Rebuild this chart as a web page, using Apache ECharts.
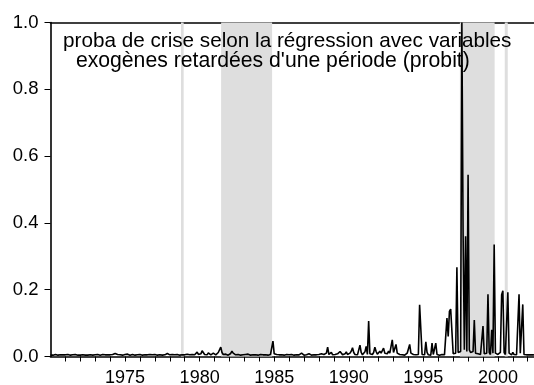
<!DOCTYPE html>
<html>
<head>
<meta charset="utf-8">
<script src="https://cdn.jsdelivr.net/npm/echarts@6/dist/echarts.min.js"></script>
<style>
  html, body { margin: 0; padding: 0; background: #fff; }
  #chart { width: 534px; height: 385px; }
</style>
</head>
<body>
<div id="chart"></div>
<script>
// Monthly crisis probability (probit, exogenous variables lagged one period), from 1970:01
const startYear = 1970;

const probs1970s = [
  0.004,0.005,0.004,0.004,0.006,0.005,0.004,0.005,0.005,0.004,0.005,0.006,
  0.005,0.004,0.006,0.005,0.004,0.005,0.005,0.004,0.006,0.005,0.004,0.005,
  0.004,0.005,0.005,0.006,0.004,0.005,0.004,0.006,0.005,0.005,0.004,0.005,
  0.005,0.004,0.006,0.005,0.004,0.005,0.006,0.004,0.005,0.004,0.005,0.004,
  0.005,0.004,0.006,0.011,0.009,0.008,0.006,0.007,0.005,0.006,0.004,0.005,
  0.006,0.005,0.007,0.006,0.004,0.005,0.006,0.005,0.004,0.006,0.005,0.004,
  0.006,0.005,0.004,0.006,0.005,0.007,0.005,0.004,0.006,0.009,0.005,0.004,
  0.006,0.005,0.004,0.007,0.005,0.006,0.004,0.006,0.005,0.004,0.009,0.006,
  0.005,0.004,0.006,0.008,0.005,0.004,0.006,0.005,0.004,0.007,0.005,0.006,
  0.005,0.004,0.007,0.009,0.005,0.004,0.006,0.008,0.005,0.007,0.013,0.006
];

const probs1980s = [
  0.005,0.008,0.017,0.012,0.006,0.008,0.005,0.011,0.007,0.005,0.006,0.010,
  0.006,0.005,0.008,0.012,0.010,0.028,0.012,0.006,0.005,0.007,0.005,0.004,
  0.006,0.009,0.016,0.010,0.006,0.005,0.004,0.006,0.005,0.004,0.006,0.005,
  0.004,0.006,0.005,0.007,0.005,0.004,0.006,0.005,0.007,0.005,0.006,0.004,
  0.005,0.006,0.004,0.005,0.007,0.005,0.006,0.004,0.005,0.006,0.008,0.046,
  0.008,0.005,0.006,0.010,0.005,0.004,0.005,0.006,0.004,0.005,0.006,0.004,
  0.005,0.004,0.006,0.005,0.004,0.006,0.005,0.004,0.005,0.006,0.010,0.005,
  0.004,0.006,0.005,0.004,0.008,0.005,0.004,0.006,0.005,0.008,0.005,0.004,
  0.006,0.005,0.008,0.005,0.006,0.004,0.010,0.028,0.006,0.005,0.012,0.005,
  0.004,0.006,0.005,0.008,0.006,0.015,0.010,0.005,0.006,0.008,0.014,0.006
];

const probs1990s = [
  0.005,0.010,0.016,0.026,0.012,0.006,0.008,0.005,0.010,0.034,0.012,0.005,
  0.008,0.014,0.030,0.006,0.106,0.008,0.005,0.006,0.012,0.028,0.015,0.007,
  0.005,0.016,0.010,0.005,0.025,0.010,0.006,0.008,0.016,0.010,0.006,0.050,
  0.012,0.008,0.036,0.010,0.005,0.006,0.004,0.005,0.006,0.004,0.005,0.010,
  0.012,0.036,0.010,0.012,0.006,0.010,0.005,0.008,0.006,0.155,0.150,0.006,
  0.008,0.005,0.044,0.012,0.005,0.006,0.004,0.040,0.006,0.005,0.040,0.006,
  0.005,0.004,0.005,0.006,0.004,0.005,0.006,0.115,0.060,0.135,0.142,0.142,
  0.008,0.006,0.010,0.267,0.012,0.010,0.015,1.000,0.364,0.020,0.360,0.015,
  0.544,0.020,0.012,0.010,0.015,0.109,0.010,0.006,0.008,0.012,0.006,0.010,
  0.091,0.008,0.006,0.010,0.186,0.012,0.006,0.080,0.010,0.335,0.010,0.006
];

const probs2000s = [
  0.006,0.008,0.012,0.185,0.197,0.012,0.006,0.008,0.192,0.010,0.006,0.005,
  0.012,0.006,0.004,0.005,0.008,0.186,0.010,0.006,0.156,0.006,0.004,0.005,
  0.004,0.005,0.004,0.005,0.004,0.005
];

// Shaded crisis periods [from, to] in fractional years
const crisisBands = [
  [1978.75, 1978.93],
  [1981.44, 1984.86],
  [1997.45, 1999.78],
  [2000.46, 2000.66]
];

const yTicks = [0.0, 0.2, 0.4, 0.6, 0.8, 1.0];
const yearLabels = [1975, 1980, 1985, 1990, 1995, 2000];

const titleLines = [
  'proba de crise selon la régression avec variables',
  ' exogènes retardées d\'une période (probit)'
];

const allProbs = probs1970s.concat(probs1980s, probs1990s, probs2000s);
const seriesData = allProbs.map((v, i) => [startYear + i / 12, v]);

const FONT = '"Liberation Sans", Arial, sans-serif';
const chart = echarts.init(document.getElementById('chart'), null, { renderer: 'canvas' });

chart.setOption({
  animation: false,
  backgroundColor: '#ffffff',
  grid: { left: 50.5, right: 0, top: 22.5, bottom: 28.5, containLabel: false, outerBoundsMode: 'none' },
  xAxis: [{
    type: 'value',
    min: 1970,
    max: 2002.42,
    interval: 1,
    axisLine: { show: true, onZero: false, lineStyle: { color: '#000', width: 1.6 } },
    axisTick: { show: true, length: 5, lineStyle: { color: '#000', width: 1 } },
    axisLabel: {
      color: '#000', fontFamily: FONT, fontSize: 18, margin: 13,
      showMinLabel: false, showMaxLabel: false,
      formatter: v => yearLabels.indexOf(Math.round(v)) >= 0 && Math.abs(v - Math.round(v)) < 1e-6 ? String(Math.round(v)) : ''
    },
    splitLine: { show: false }
  }, {
    type: 'value',
    position: 'top',
    min: 1970,
    max: 2002.42,
    axisLine: { show: true, onZero: false, lineStyle: { color: '#000', width: 1.6 } },
    axisTick: { show: false },
    axisLabel: { show: false },
    splitLine: { show: false }
  }],
  yAxis: {
    type: 'value',
    min: 0,
    max: 1,
    interval: 0.2,
    axisLine: { show: true, lineStyle: { color: '#000', width: 1.6 } },
    axisTick: { show: true, length: 6, lineStyle: { color: '#000', width: 1 } },
    axisLabel: {
      color: '#000', fontFamily: FONT, fontSize: 18.5, margin: 12,
      formatter: v => {
        const t = yTicks.find(k => Math.abs(k - v) < 1e-6);
        return t === undefined ? '' : t.toFixed(1);
      }
    },
    splitLine: { show: false }
  },
  series: [{
    type: 'line',
    xAxisIndex: 0,
    data: seriesData,
    showSymbol: false,
    symbol: 'none',
    lineStyle: { color: '#000', width: 1.6 },
    z: 3,
    markArea: {
      silent: true,
      itemStyle: { color: '#dedede' },
      data: crisisBands.map(b => [{ xAxis: b[0] }, { xAxis: b[1] }])
    }
  }],
  graphic: [{
    type: 'text',
    z: 100,
    left: 63,
    top: 31,
    style: { text: titleLines[0], font: '20.7px ' + FONT, fill: '#000' }
  }, {
    type: 'text',
    z: 100,
    left: 70,
    top: 51,
    style: { text: titleLines[1], font: '21.2px ' + FONT, fill: '#000' }
  }]
});
</script>
</body>
</html>
